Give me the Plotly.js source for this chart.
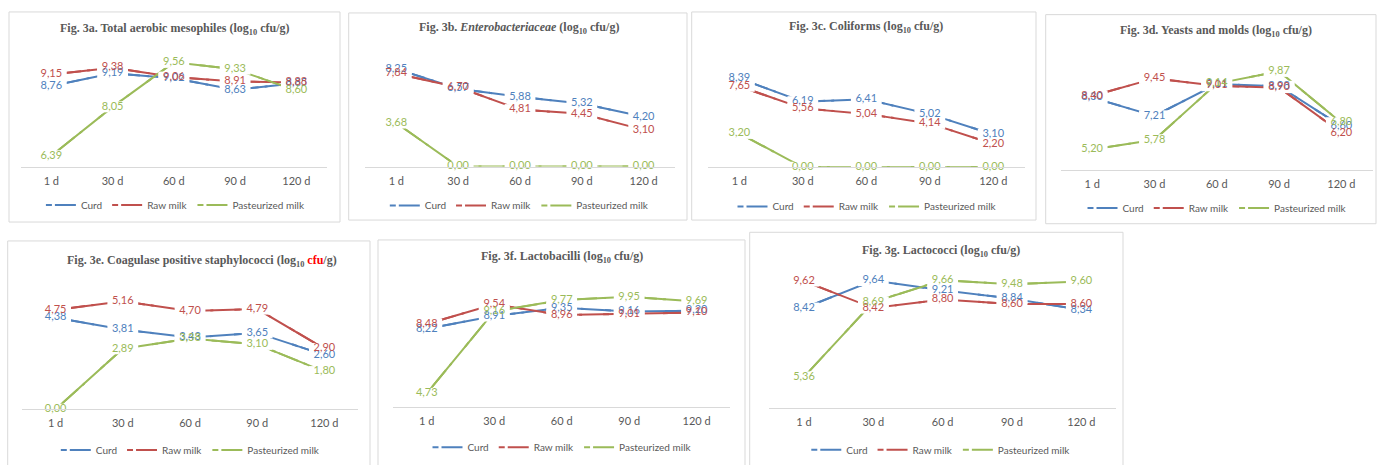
<!DOCTYPE html>
<html><head><meta charset="utf-8">
<script src="https://cdn.plot.ly/plotly-3.0.1.min.js"></script>
<style>html,body{margin:0;padding:0;background:#fff;}#chart{width:1377px;height:465px;}</style>
</head><body><div id="chart"></div>
<script>
// ---------- data ----------
const days = ['1 d', '30 d', '60 d', '90 d', '120 d'];
const seriesNames = ['Curd', 'Raw milk', 'Pasteurized milk'];

const mesoCurd = [8.76, 9.19, 9.02, 8.63, 8.85];
const mesoRaw  = [9.15, 9.38, 9.06, 8.91, 8.88];
const mesoPast = [6.39, 8.05, 9.56, 9.33, 8.60];

const enteroCurd = [8.25, 6.57, 5.88, 5.32, 4.20];
const enteroRaw  = [7.84, 6.70, 4.81, 4.45, 3.10];
const enteroPast = [3.68, 0.00, 0.00, 0.00, 0.00];

const coliCurd = [8.39, 6.19, 6.41, 5.02, 3.10];
const coliRaw  = [7.65, 5.56, 5.04, 4.14, 2.20];
const coliPast = [3.20, 0.00, 0.00, 0.00, 0.00];

const yeastCurd = [8.30, 7.21, 9.11, 8.98, 6.60];
const yeastRaw  = [8.40, 9.45, 9.01, 8.90, 6.20];
const yeastPast = [5.20, 5.78, 9.14, 9.87, 6.80];

const staphCurd = [4.38, 3.81, 3.43, 3.65, 2.60];
const staphRaw  = [4.75, 5.16, 4.70, 4.79, 2.90];
const staphPast = [0.00, 2.89, 3.38, 3.10, 1.80];

const lbCurd = [8.22, 8.91, 9.35, 9.16, 9.20];
const lbRaw  = [8.48, 9.54, 8.96, 9.01, 9.10];
const lbPast = [4.73, 9.16, 9.77, 9.95, 9.69];

const lcCurd = [8.42, 9.64, 9.21, 8.84, 8.34];
const lcRaw  = [9.62, 8.42, 8.80, 8.60, 8.60];
const lcPast = [5.36, 8.69, 9.66, 9.48, 9.60];

const titles = [
  'Fig. 3a. Total aerobic mesophiles (log<sub>10</sub> cfu/g)',
  'Fig. 3b. <i>Enterobacteriaceae</i> (log<sub>10</sub> cfu/g)',
  'Fig. 3c. Coliforms (log<sub>10</sub> cfu/g)',
  'Fig. 3d. Yeasts and molds (log<sub>10</sub> cfu/g)',
  'Fig. 3e. Coagulase positive staphylococci (log<sub>10</sub> <span style="color:#ff0000">cfu</span>/g)',
  'Fig. 3f. Lactobacilli (log<sub>10</sub> cfu/g)',
  'Fig. 3g. Lactococci (log<sub>10</sub> cfu/g)'
];
const panelSeries = [
  [mesoCurd, mesoRaw, mesoPast],
  [enteroCurd, enteroRaw, enteroPast],
  [coliCurd, coliRaw, coliPast],
  [yeastCurd, yeastRaw, yeastPast],
  [staphCurd, staphRaw, staphPast],
  [lbCurd, lbRaw, lbPast],
  [lcCurd, lcRaw, lcPast]
];

// ---------- layout geometry (pixels) ----------
const W = 1377, H = 465;
const geom = [
  {xr:[20.7, 327],   axisY:168,   scale:29.6,  yr:[6, 10],   box:[9, 12, 340, 223],       t:[174.7, 28.7], lg:[175.9, 206]},
  {xr:[365.4, 674.6],axisY:167.3, scale:11.9,  yr:[0, 9],    box:[348.7, 13, 687, 221],   t:[518.7, 28],   lg:[519.8, 206.3]},
  {xr:[707.6, 1025], axisY:168,   scale:10.64, yr:[0, 10],   box:[691.7, 12, 1036, 221],  t:[866, 27.3],   lg:[867.5, 207.3]},
  {xr:[1061, 1372.5],axisY:170.3, scale:16.8,  yr:[4, 10.5], box:[1045.7, 14.7, 1376, 224.7], t:[1216, 31.3], lg:[1217.5, 209]},
  {xr:[22, 358],     axisY:411,   scale:21,    yr:[0, 6],    box:[7.7, 242, 370, 470],    t:[201.7, 262],  lg:[190.8, 452]},
  {xr:[393, 730.4],  axisY:408.7, scale:18.6,  yr:[4, 10.5], box:[378, 241, 745, 470],    t:[561.7, 257.7],lg:[562.5, 449.3]},
  {xr:[769.3, 1116], axisY:409.3, scale:22.6,  yr:[4, 10],   box:[749.7, 233.3, 1123, 470], t:[941.3, 251.7], lg:[941.3, 451.7]}
];
const colors = ['#4F81BD', '#C0504D', '#9BBB59'];
const px = x => x / W;
const py = y => 1 - y / H;
const SANS = 'Lato';
const SERIF = 'Liberation Serif';

const data = [];
const layout = {
  width: W, height: H,
  margin: {l: 0, r: 0, t: 0, b: 0},
  paper_bgcolor: '#ffffff', plot_bgcolor: 'rgba(0,0,0,0)',
  separators: ', ',
  showlegend: true,
  annotations: [], shapes: []
};

geom.forEach((g, i) => {
  const n = i + 1;
  const xa = n === 1 ? 'x' : 'x' + n;
  const ya = n === 1 ? 'y' : 'y' + n;
  const xk = n === 1 ? 'xaxis' : 'xaxis' + n;
  const yk = n === 1 ? 'yaxis' : 'yaxis' + n;
  const lk = n === 1 ? 'legend' : 'legend' + n;
  const top = g.axisY - (g.yr[1] - g.yr[0]) * g.scale;

  layout[xk] = {
    domain: [px(g.xr[0]), px(g.xr[1])], anchor: ya, type: 'category',
    categoryarray: days, range: [-0.5, 4.5], fixedrange: true,
    showline: true, linecolor: '#D9D9D9', linewidth: 1, showgrid: false, zeroline: false,
    ticks: 'outside', ticklen: 4, tickcolor: 'rgba(0,0,0,0)',
    tickfont: {family: SANS, size: 11, color: '#595959'}
  };
  layout[yk] = {
    domain: [py(g.axisY), py(top)], anchor: xa, range: g.yr, fixedrange: true,
    visible: false, showgrid: false, zeroline: false
  };
  layout[lk] = {
    orientation: 'h', x: px(g.lg[0]), xanchor: 'center', y: py(g.lg[1]), yanchor: 'middle',
    bgcolor: 'rgba(0,0,0,0)', itemwidth: 30, itemclick: false, itemdoubleclick: false,
    font: {family: SANS, size: 10, color: '#595959'}
  };
  layout.shapes.push({type: 'rect', xref: 'paper', yref: 'paper',
    x0: px(g.box[0]), x1: px(g.box[2]), y0: py(g.box[3]), y1: py(g.box[1]),
    line: {color: '#D9D9D9', width: 1}, fillcolor: 'rgba(0,0,0,0)', layer: 'below'});
  layout.annotations.push({xref: 'paper', yref: 'paper', x: px(g.t[0]), y: py(g.t[1]),
    xanchor: 'center', yanchor: 'middle', showarrow: false, text: '<b>' + titles[i] + '</b>',
    font: {family: SERIF, size: 12, color: '#595959'}});

  const ser = panelSeries[i];
  // dashed legend carriers (hidden exactly underneath the solid lines)
  ser.forEach((vals, k) => data.push({x: days, y: vals, xaxis: xa, yaxis: ya, mode: 'lines',
    name: seriesNames[k], legend: lk, showlegend: true, hoverinfo: 'skip',
    line: {color: colors[k], width: 2, dash: '6px,3px,21px'}}));
  // solid lines
  ser.forEach((vals, k) => data.push({x: days, y: vals, xaxis: xa, yaxis: ya, mode: 'lines',
    line: {color: colors[k], width: 2}, showlegend: false, hoverinfo: 'skip'}));
  // white masks behind labels
  ser.forEach((vals, k) => data.push({x: days, y: vals, xaxis: xa, yaxis: ya, mode: 'markers',
    marker: {symbol: 'line-ew', size: 22, line: {color: '#ffffff', width: 11}},
    showlegend: false, hoverinfo: 'skip', cliponaxis: false}));
  // labels
  ser.forEach((vals, k) => data.push({x: days, y: vals, xaxis: xa, yaxis: ya, mode: 'text',
    texttemplate: '%{y:.2f}', textposition: 'middle center',
    textfont: {family: SANS, size: 11, color: colors[k]},
    showlegend: false, hoverinfo: 'skip', cliponaxis: false}));
});

Plotly.newPlot('chart', data, layout, {staticPlot: true, displayModeBar: false});
</script>
</body></html>
